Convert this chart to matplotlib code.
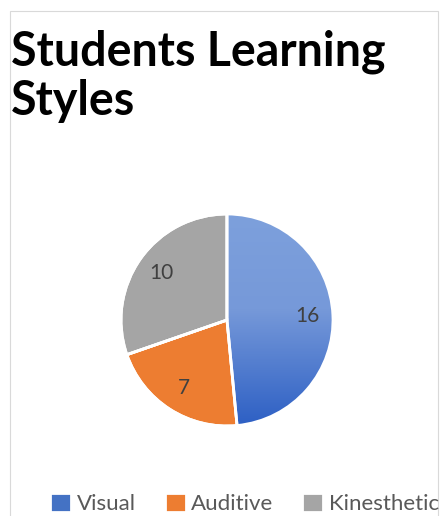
import numpy as np
import matplotlib.pyplot as plt
from matplotlib.patches import Rectangle
from matplotlib.colors import LinearSegmentedColormap

# data
styles = ["Visual", "Auditive", "Kinesthetic"]
students = [16, 7, 10]
colors = ["#4472C4", "#ED7D31", "#A5A5A5"]

W, H = 441, 516
fig = plt.figure(figsize=(W / 100, H / 100), dpi=100)

# chart frame (light gray), slightly clipped at the right / bottom
fig.add_artist(Rectangle((10 / W, -0.05), 428 / W, (H - 11) / H + 0.05,
                         transform=fig.transFigure, fill=False,
                         edgecolor="#D9D9D9", linewidth=0.8))

# title
fig.text(11 / W, 1 - 65 / H, "Students Learning", fontsize=33.5, fontweight="bold",
         family="Lato", color="black", va="baseline", ha="left")
fig.text(11 / W, 1 - 115 / H, "Styles", fontsize=33.5, fontweight="bold",
         family="Lato", color="black", va="baseline", ha="left")

# pie axes: centre (227, 320) px, radius 106 px
cx, cy, r = 227, 320, 106
half = 120
ax = fig.add_axes([(cx - half) / W, (H - cy - half) / H, 2 * half / W, 2 * half / H])
lim = half / r

wedges, texts, autotexts = ax.pie(
    students, colors=colors, startangle=90, counterclock=False,
    autopct=lambda p: "%d" % round(p * sum(students) / 100.0),
    pctdistance=0.76,
    wedgeprops=dict(edgecolor="white", linewidth=2),
    textprops=dict(fontsize=15, color="#404040", family="Lato"),
)

# gradient fill on the Visual slice
grad = LinearSegmentedColormap.from_list(
    "vis", [(0.0, "#2D5FC4"), (0.55, "#7699D9"), (1.0, "#7DA0DC")])
yy = np.linspace(0, 1, 256).reshape(-1, 1)
img = ax.imshow(yy, cmap=grad, extent=[-1, 1, -1, 1], origin="lower",
                aspect="auto", zorder=wedges[0].get_zorder() + 0.1)
img.set_clip_path(wedges[0])
# redraw the white edges on top of the gradient
ax.pie(students, colors=["none"] * 3, startangle=90, counterclock=False,
       wedgeprops=dict(edgecolor="white", linewidth=2, zorder=5))
ax.set_xlim(-lim, lim)
ax.set_ylim(-lim, lim)
ax.set_aspect("equal")
ax.axis("off")
for t in autotexts:
    t.set_zorder(6)

# legend at the very bottom of the chart
fig.legend(wedges, styles, loc="lower left", bbox_to_anchor=(30 / W, -18 / H),
           ncol=3, frameon=False, handlelength=0.95, handleheight=0.95,
           handletextpad=0.25, columnspacing=1.3,
           prop=dict(family="Lato", size=16), labelcolor="#595959")

fig.savefig("out.png", dpi=100)
